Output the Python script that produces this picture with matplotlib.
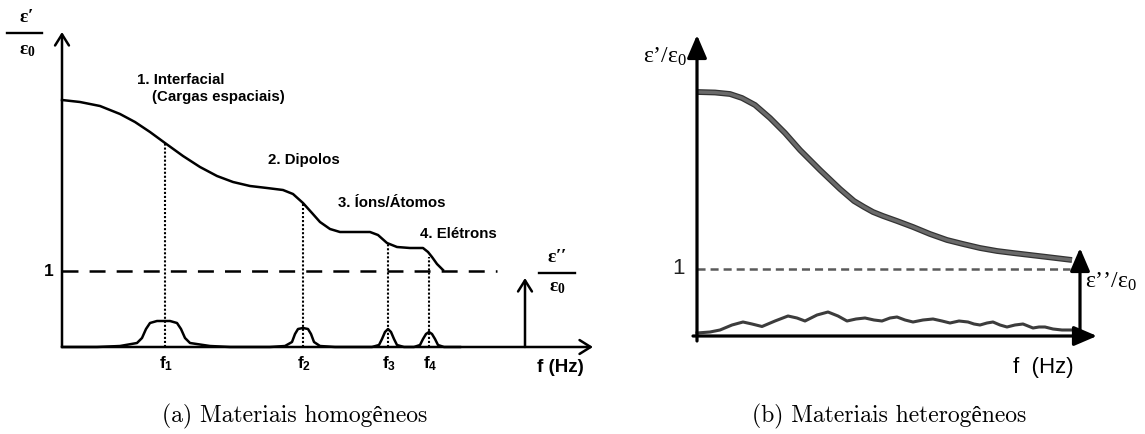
import matplotlib
matplotlib.use("Agg")
import matplotlib.pyplot as plt
import numpy as np

plt.rcParams['font.family'] = ['Liberation Sans', 'DejaVu Sans']
plt.rcParams['mathtext.fontset'] = 'custom'
plt.rcParams['mathtext.bf'] = 'Liberation Sans:bold'
plt.rcParams['mathtext.rm'] = 'Liberation Serif:bold'
plt.rcParams['mathtext.sf'] = 'Liberation Serif'
plt.rcParams['lines.scale_dashes'] = False

# ---------------- data: panel (a) homogeneous ----------------
a_curve_x = [0, 18, 38, 58, 73, 88, 103, 121, 138, 155, 171, 188, 205, 221, 231, 241,
             250, 258, 268, 278, 293, 308, 316, 325, 335, 348, 361, 366, 370, 375, 381]
a_curve_y = [247, 245, 241, 233, 225, 215, 204, 191, 180, 171, 165, 161, 159, 157, 153, 144,
             134, 125, 118, 115, 115, 115, 112, 104, 100, 99, 99, 95, 90, 83, 77]
a_loss_x = [0, 35, 58, 75, 80, 84, 88, 95, 108, 115, 119, 123, 128, 148, 168, 208, 223, 230,
            233, 236, 241, 246, 249, 252, 258, 273, 310, 317, 320, 323, 326, 329, 332, 335,
            342, 352, 358, 361, 364, 367, 370, 373, 376, 382, 398]
a_loss_y = [0, 0, 1, 4, 9, 18, 24, 26, 26, 24, 18, 9, 4, 1, 0, 0, 1, 5, 13, 18, 19, 18, 13, 5,
            1, 0, 0, 2, 8, 15, 18, 15, 8, 2, 0, 0, 2, 8, 13, 15, 13, 8, 2, 0, 0]
a_freq_x = [103, 241, 326, 367]
a_freq_top = [204, 144, 104, 90]
a_freq_labels = [r'$\mathbf{f_1}$', r'$\mathbf{f_2}$', r'$\mathbf{f_3}$', r'$\mathbf{f_4}$']
a_level_one = 76
a_mech_labels = ['1. Interfacial', '(Cargas espaciais)', '2. Dipolos', '3. Íons/Átomos', '4. Elétrons']

# ---------------- data: panel (b) heterogeneous ----------------
b_curve_x = [0, 18, 33, 45, 58, 73, 88, 103, 123, 143, 157, 167, 176, 186, 200, 216, 233,
             250, 266, 283, 300, 316, 333, 350, 375]
b_curve_y = [244, 243.5, 242, 238, 231, 218, 203, 186, 166, 147, 135, 129, 124, 120, 115,
             109, 102, 96, 92, 88, 85, 83, 81, 79, 76]
b_loss_x = [0, 13, 23, 35, 46, 55, 65, 78, 91, 100, 108, 120, 131, 141, 150, 159, 168, 177,
            185, 193, 200, 208, 216, 226, 236, 245, 253, 262, 271, 277, 283, 290, 296, 303,
            310, 318, 326, 331, 336, 342, 348, 352, 356, 365, 375]
b_loss_y = [3, 4, 6, 11, 14, 12, 9.5, 15, 20, 18, 15, 21, 24, 20, 15, 17, 18, 16, 15, 18, 19,
            16, 14, 16, 17, 15, 13, 15, 14, 12, 11, 13, 14, 11, 9, 11, 12, 10, 8, 9, 9, 8, 7, 6, 6]
b_level_one = 67

W, H = 1145, 434
fig = plt.figure(figsize=(W / 100, H / 100), dpi=100)

# ---------------- panel (a) ----------------
axA = fig.add_axes([62 / W, (H - 347) / H, 540 / W, 330 / H])
axA.set_xlim(0, 540)
axA.set_ylim(0, 330)
axA.axis('off')

lw = 1.8
open_arrow = dict(arrowstyle='->,head_length=0.8,head_width=0.5', lw=lw, color='black',
                  shrinkA=0, shrinkB=0)
axA.annotate('', xy=(0, 315), xytext=(0, 0), arrowprops=open_arrow, annotation_clip=False)
axA.annotate('', xy=(531, 0), xytext=(0, 0), arrowprops=open_arrow, annotation_clip=False)
axA.annotate('', xy=(463, 69), xytext=(463, 0), arrowprops=open_arrow, annotation_clip=False)

axA.plot(a_curve_x, a_curve_y, color='black', lw=lw, solid_joinstyle='round', clip_on=False)
axA.plot(a_loss_x, a_loss_y, color='black', lw=lw, solid_joinstyle='round', clip_on=False)
axA.plot([0, 435], [a_level_one, a_level_one], color='black', lw=lw, dashes=(11.5, 8), clip_on=False)
for fx, top, lab in zip(a_freq_x, a_freq_top, a_freq_labels):
    axA.plot([fx, fx], [0, top], color='black', lw=1.5, dashes=(1.5, 1.4), clip_on=False)
    axA.text(fx + 1, -17, lab, ha='center', va='center', fontsize=12.5)

axA.text(-13, a_level_one, '1', ha='center', va='center', fontsize=12.5, fontweight='bold')
fs = 10.8
axA.text(75, 267, a_mech_labels[0], ha='left', va='center', fontsize=fs, fontweight='bold')
axA.text(90, 250, a_mech_labels[1], ha='left', va='center', fontsize=fs, fontweight='bold')
axA.text(206, 187, a_mech_labels[2], ha='left', va='center', fontsize=fs, fontweight='bold')
axA.text(276, 144, a_mech_labels[3], ha='left', va='center', fontsize=fs, fontweight='bold')
axA.text(358, 113, a_mech_labels[4], ha='left', va='center', fontsize=fs, fontweight='bold')
axA.text(498, -21, 'f (Hz)', ha='center', va='center', fontsize=13.5, fontweight='bold')

# epsilon'/eps0 label (left)
axA.text(-36, 329, '$\\mathrm{ε′}$', ha='center', va='center', fontsize=14)
axA.plot([-55, -20], [314, 314], color='black', lw=1.7, clip_on=False)
axA.text(-35, 297, '$\\mathrm{ε_0}$', ha='center', va='center', fontsize=14)
# epsilon''/eps0 label (right)
axA.text(495, 90, '$\\mathrm{ε′′}$', ha='center', va='center', fontsize=14)
axA.plot([477, 513], [74, 74], color='black', lw=1.7, clip_on=False)
axA.text(495, 60, '$\\mathrm{ε_0}$', ha='center', va='center', fontsize=14)

# ---------------- panel (b) ----------------
axB = fig.add_axes([697 / W, (H - 336) / H, 445 / W, 320 / H])
axB.set_xlim(0, 445)
axB.set_ylim(0, 320)
axB.axis('off')

blw = 2.3
fill_arrow = dict(arrowstyle='-|>,head_length=1.4,head_width=0.6', lw=blw, color='black',
                  shrinkA=0, shrinkB=0)
axB.annotate('', xy=(0, 301), xytext=(0, -5), arrowprops=fill_arrow, annotation_clip=False)
axB.annotate('', xy=(400, 0), xytext=(-4, 0), arrowprops=fill_arrow, annotation_clip=False)
axB.annotate('', xy=(383, 88), xytext=(383, -5), arrowprops=fill_arrow, annotation_clip=False)

axB.plot(b_curve_x, b_curve_y, color='#333333', lw=4.2, solid_joinstyle='round',
         solid_capstyle='butt', clip_on=False)
axB.plot(b_curve_x, b_curve_y, color='#6a6a6a', lw=2.4, solid_joinstyle='round',
         solid_capstyle='butt', clip_on=False)
axB.plot([0, 373], [b_level_one, b_level_one], color='#5a5a5a', lw=1.8, dashes=(5.8, 3.6), clip_on=False)
axB.plot(b_loss_x, b_loss_y, color='#3c3c3c', lw=2.2, solid_joinstyle='round', clip_on=False)

axB.text(-32, 279, '$\\mathsf{ε’/ε_0}$', ha='center', va='center', fontsize=17)
axB.text(-19, b_level_one, '1', ha='center', va='center', fontsize=16, color='#222222')
axB.text(414, 54, '$\\mathsf{ε’’/ε_0}$', ha='center', va='center', fontsize=17)
axB.text(346, -31, 'f  (Hz)', ha='center', va='center', fontsize=16)

# ---------------- captions ----------------
cap_font = ['cmr10', 'Liberation Serif']
fig.text(295 / W, 1 - 416 / H, '(a) Materiais homogêneos', ha='center', va='center',
         fontsize=17, family=cap_font)
fig.text(889 / W, 1 - 416 / H, '(b) Materiais heterogêneos', ha='center', va='center',
         fontsize=17, family=cap_font)

fig.savefig('out.png', dpi=100)
